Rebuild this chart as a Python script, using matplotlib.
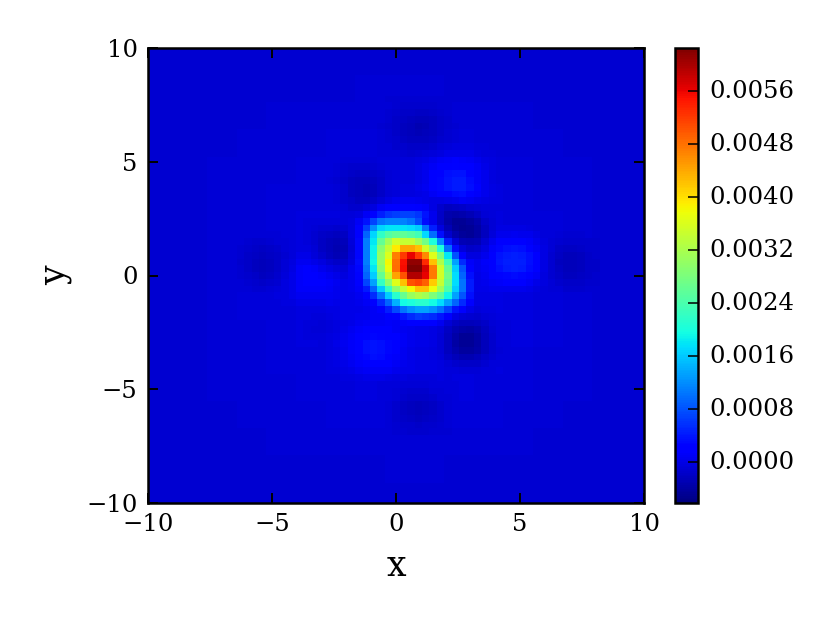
import numpy as np
import matplotlib
matplotlib.use("Agg")
import matplotlib.pyplot as plt
from matplotlib.transforms import ScaledTranslation

# all values in units of 1e-5
N_CELLS = 67
BACKGROUND = [
 [-13,-13,-13,-13,-13,-13,-13,-13,-13,-13,-13,-13,-13,-13,-13,-13,-13],
 [-13,-13,-13,-12,-12,-12,-12,-11,-11,-11,-12,-12,-12,-12,-13,-13,-13],
 [-13,-13,-12,-12,-11,-11,-10,-10, -9,-10,-10,-11,-11,-12,-12,-13,-13],
 [-13,-12,-12,-11,-10, -9, -8, -8, -8, -8, -8, -9,-10,-11,-12,-12,-13],
 [-13,-12,-11,-10, -9, -8, -7, -6, -6, -5, -6, -7, -8,-10,-11,-12,-13],
 [-13,-12,-11,-10, -8, -7, -5, -4, -4, -2, -3, -5, -7, -9,-11,-12,-13],
 [-13,-12,-11, -9, -7, -5, -3, -2, -2,  1,  0, -3, -6, -8,-10,-12,-13],
 [-13,-12,-10, -9, -6, -4, -1,  1,  2,  3,  2, -1, -5, -8,-10,-12,-13],
 [-13,-12,-10, -8, -6, -3,  0,  2,  3,  3,  2, -1, -4, -7,-10,-12,-13],
 [-13,-12,-10, -8, -6, -3,  0,  2,  3,  3,  2, -1, -4, -7,-10,-12,-13],
 [-13,-12,-11, -9, -7, -4, -2,  0,  2,  2,  0, -2, -5, -8,-10,-12,-13],
 [-13,-12,-11,-10, -8, -6, -4, -2, -1, -1, -2, -4, -6, -9,-11,-12,-13],
 [-13,-12,-11,-10, -9, -8, -6, -5, -4, -4, -5, -6, -8,-10,-11,-12,-13],
 [-13,-13,-12,-11,-10, -9, -8, -7, -7, -7, -7, -8, -9,-11,-12,-12,-13],
 [-13,-13,-12,-12,-11,-11,-10,-10, -9, -9,-10,-10,-11,-12,-12,-13,-13],
 [-13,-13,-13,-13,-12,-12,-12,-12,-11,-11,-12,-12,-12,-13,-13,-13,-13],
 [-13,-13,-13,-13,-13,-13,-13,-13,-13,-13,-13,-13,-13,-13,-13,-13,-13],
]
PEAK_ORIGIN = (22, 27)  # row from top, column
PEAK = [
 [ 0, 0, 1, 3, 5, 8,10,10,10, 8, 6, 3, 1, 0, 0, 0, 0],
 [ 0, 1, 5,10,18,24,28,30,30,26,18,10, 3, 0, 0, 0, 0],
 [ 0, 4,15,30,50,62,68,70,70,60,40,14, 2, 0, 0, 0, 0],
 [ 3,12,38,72,105,112,112,112,102,72,32,12, 2, 0, 0, 0, 0],
 [ 6,22,68,125,170,180,180,180,175,160,100,50,12, 2, 0, 0, 0],
 [10,30,95,170,220,250,260,260,250,230,170,100,40, 6, 0, 0, 0],
 [10,35,110,180,260,310,350,340,340,310,270,200,120,50,10, 0, 0],
 [10,35,110,190,290,340,390,440,440,420,350,290,200,100,40, 8, 0],
 [10,35,110,190,300,360,470,520,560,520,460,360,280,180,80,20, 3],
 [10,35,110,190,300,380,480,550,610,610,530,420,320,230,130,50,10],
 [10,30,100,180,290,370,480,550,620,625,570,470,350,260,160,80,20],
 [ 8,25,90,160,260,340,440,500,590,590,560,470,350,270,170,90,30],
 [ 5,20,70,130,220,290,360,420,500,510,490,410,340,260,170,100,40],
 [ 3,10,40,90,160,220,290,340,380,420,420,370,310,240,160,100,40],
 [ 0, 5,20,50,100,160,210,260,300,320,310,280,250,190,130,80,30],
 [ 0, 2, 6,15,50,90,140,190,200,210,210,190,170,130,90,50,15],
 [ 0, 0, 2, 6,15,40,70,100,120,130,130,120,100,70,40,20, 5],
 [ 0, 0, 0, 2, 4, 8,20,35,50,60,55,50,40,25,10, 3, 0],
 [ 0, 0, 0, 0, 0, 2, 4, 8,14,18,18,15,12, 6, 2, 0, 0],
]
LOBE_A_ORIGIN = (20, 36)
LOBE_A = [
 [ -1, -2, -3, -4, -4, -3, -2, -1,  0,  0,  0,  0],
 [ -2, -5, -8,-11,-12,-10, -7, -4, -2, -1,  0,  0],
 [ -3, -8,-14,-20,-22,-20,-15,-10, -5, -2, -1,  0],
 [ -2, -8,-16,-26,-32,-32,-28,-20,-12, -5, -2, -1],
 [ -1, -6,-14,-26,-38,-42,-40,-32,-20,-10, -4, -1],
 [  0, -3,-10,-22,-36,-46,-48,-42,-30,-16, -6, -2],
 [  0, -1, -6,-16,-30,-44,-50,-48,-36,-20, -8, -2],
 [  0,  0, -3, -9,-20,-34,-44,-46,-36,-22, -9, -3],
 [  0,  0, -1, -4,-12,-22,-30,-34,-30,-18, -8, -2],
 [  0,  0,  0, -2, -5,-11,-16,-20,-18,-11, -5, -1],
 [  0,  0,  0,  0, -2, -4, -7, -9, -8, -5, -2, -1],
]
LOBE_B_ORIGIN = (38, 38)
LOBE_B = [
 [ -1, -2, -4, -5, -6, -6, -5, -4, -2, -1,  0],
 [ -2, -5, -9,-13,-15,-15,-13, -9, -5, -2, -1],
 [ -3, -8,-15,-22,-26,-26,-22,-15, -8, -4, -1],
 [ -4,-10,-20,-30,-37,-38,-31,-20,-11, -5, -2],
 [ -4,-12,-23,-36,-46,-48,-38,-24,-13, -6, -2],
 [ -4,-12,-24,-38,-48,-48,-38,-24,-13, -6, -2],
 [ -3,-10,-21,-32,-40,-40,-32,-21,-11, -5, -2],
 [ -2, -7,-15,-23,-28,-28,-23,-15, -8, -3, -1],
 [ -1, -4, -8,-13,-16,-16,-13, -8, -4, -2,  0],
 [  0, -2, -4, -6, -7, -7, -6, -4, -2, -1,  0],
]
LOBE_C_ORIGIN = (25, 21)
LOBE_C = [
 [ -1, -2, -3, -4, -4, -4, -3, -1,  0,  0],
 [ -2, -4, -7,-10,-11,-10, -7, -4, -1,  0],
 [ -3, -7,-12,-17,-19,-17,-12, -6, -2,  0],
 [ -3, -9,-16,-24,-28,-24,-16, -8, -3, -1],
 [ -3, -9,-18,-27,-32,-28,-18, -9, -3, -1],
 [ -3, -9,-16,-25,-29,-26,-16, -8, -3, -1],
 [ -2, -7,-12,-18,-21,-18,-12, -6, -2,  0],
 [ -1, -4, -7,-11,-12,-11, -7, -3, -1,  0],
 [  0, -2, -3, -5, -5, -5, -3, -1,  0,  0],
]
LOBE_D_ORIGIN = (16, 24)
LOBE_D = [
 [  0, -1, -2, -3, -3, -3, -3, -2, -1,  0,  0],
 [ -1, -2, -5, -7, -8, -8, -7, -5, -2, -1,  0],
 [ -1, -4, -8,-12,-14,-14,-12, -8, -4, -1,  0],
 [ -2, -5,-10,-15,-20,-21,-18,-11, -5, -2, -1],
 [ -2, -6,-11,-17,-23,-25,-21,-13, -6, -2, -1],
 [ -2, -6,-11,-17,-23,-25,-21,-13, -6, -2, -1],
 [ -1, -4, -9,-14,-18,-19,-16,-10, -5, -2,  0],
 [ -1, -3, -6, -9,-11,-11,-10, -6, -3, -1,  0],
 [  0, -1, -3, -4, -5, -5, -4, -3, -1,  0,  0],
]
LOBE_E_ORIGIN = (7, 31)
LOBE_E = [
 [  0, -1, -1, -2, -2, -2, -2, -2, -1, -1,  0],
 [ -1, -2, -3, -5, -6, -6, -6, -5, -3, -2, -1],
 [ -1, -3, -6, -8,-10,-11,-10, -8, -6, -3, -1],
 [ -1, -4, -8,-12,-15,-16,-15,-12, -8, -4, -1],
 [ -2, -5, -9,-14,-18,-20,-18,-14, -9, -5, -2],
 [ -2, -5, -9,-14,-18,-20,-18,-14, -9, -5, -2],
 [ -1, -4, -8,-12,-15,-16,-15,-12, -8, -4, -1],
 [ -1, -3, -6, -8,-10,-11,-10, -8, -6, -3, -1],
 [ -1, -2, -3, -5, -6, -6, -6, -5, -3, -2, -1],
 [  0, -1, -1, -2, -2, -2, -2, -2, -1, -1,  0],
]
LOBE_F_ORIGIN = (48, 31)
LOBE_F = [
 [  0, -1, -1, -2, -2, -2, -2, -2, -1, -1,  0],
 [ -1, -2, -3, -5, -6, -6, -6, -4, -3, -2, -1],
 [ -1, -3, -5, -8,-10,-10,-10, -7, -5, -3, -1],
 [ -1, -4, -7,-11,-14,-15,-14,-11, -7, -4, -1],
 [ -1, -4, -8,-13,-17,-18,-17,-13, -8, -4, -1],
 [ -1, -4, -8,-13,-17,-18,-17,-13, -8, -4, -1],
 [ -1, -4, -7,-11,-14,-15,-14,-11, -7, -4, -1],
 [ -1, -3, -5, -7, -9,-10, -9, -7, -5, -3, -1],
 [ -1, -2, -3, -4, -5, -5, -5, -4, -3, -2, -1],
 [  0, -1, -1, -2, -2, -2, -2, -2, -1, -1,  0],
]
LOBE_G_ORIGIN = (27, 11)
LOBE_G = [
 [  0, -1, -1, -2, -2, -2, -2, -1, -1,  0],
 [ -1, -2, -4, -5, -6, -6, -5, -4, -2, -1],
 [ -1, -3, -6, -9,-11,-11, -9, -6, -3, -1],
 [ -1, -4, -8,-12,-15,-15,-12, -8, -4, -1],
 [ -1, -5, -9,-14,-17,-17,-14, -9, -5, -1],
 [ -1, -5, -9,-14,-17,-17,-14, -9, -5, -1],
 [ -1, -4, -8,-11,-14,-14,-11, -8, -4, -1],
 [ -1, -3, -5, -8, -9, -9, -8, -5, -3, -1],
 [  0, -1, -3, -4, -5, -5, -4, -3, -1,  0],
]
LOBE_H_ORIGIN = (27, 52)
LOBE_H = [
 [  0, -1, -1, -2, -2, -2, -2, -1, -1,  0],
 [ -1, -2, -4, -5, -6, -6, -5, -4, -2, -1],
 [ -1, -3, -6, -9,-11,-11, -9, -6, -3, -1],
 [ -1, -4, -8,-12,-15,-15,-12, -8, -4, -1],
 [ -1, -5, -9,-14,-17,-17,-14, -9, -5, -1],
 [ -1, -5, -9,-14,-17,-17,-14, -9, -5, -1],
 [ -1, -4, -8,-11,-14,-14,-11, -8, -4, -1],
 [ -1, -3, -5, -8, -9, -9, -8, -5, -3, -1],
 [  0, -1, -3, -4, -5, -5, -4, -3, -1,  0],
]
BUMP_A_ORIGIN = (14, 36)
BUMP_A = [
 [  0,  1,  2,  3,  4,  4,  4,  3,  2,  1,  0],
 [  1,  3,  5,  8, 10, 10, 10,  8,  5,  3,  1],
 [  2,  5, 10, 15, 19, 20, 19, 15, 10,  5,  2],
 [  3,  8, 15, 23, 29, 31, 29, 23, 15,  8,  3],
 [  4, 10, 19, 30, 39, 42, 41, 32, 19, 10,  4],
 [  4, 10, 20, 33, 43, 46, 46, 37, 20, 10,  4],
 [  4, 10, 20, 33, 43, 47, 46, 38, 20, 10,  4],
 [  3,  9, 18, 28, 38, 43, 42, 32, 18,  9,  3],
 [  2,  6, 12, 19, 25, 28, 26, 20, 12,  6,  2],
 [  1,  4,  7, 10, 13, 14, 13, 10,  7,  4,  1],
 [  0,  2,  3,  4,  5,  6,  5,  4,  3,  2,  0],
]
BUMP_B_ORIGIN = (26, 44)
BUMP_B = [
 [  0,  1,  2,  3,  4,  4,  4,  3,  2,  1,  0],
 [  1,  3,  6,  9, 11, 12, 11,  9,  6,  3,  1],
 [  2,  6, 12, 18, 23, 25, 23, 18, 12,  6,  2],
 [  3,  9, 18, 29, 37, 40, 37, 29, 18,  9,  3],
 [  4, 11, 23, 37, 46, 49, 46, 37, 23, 11,  4],
 [  4, 12, 24, 39, 48, 50, 48, 39, 24, 12,  4],
 [  4, 11, 22, 35, 44, 47, 44, 35, 22, 11,  4],
 [  3,  8, 16, 25, 32, 35, 32, 25, 16,  8,  3],
 [  2,  5,  9, 14, 18, 19, 18, 14,  9,  5,  2],
 [  1,  2,  4,  6,  8,  8,  8,  6,  4,  2,  1],
]
BUMP_C_ORIGIN = (39, 25)
BUMP_C = [
 [  0,  1,  2,  3,  3,  4,  3,  3,  2,  1,  0],
 [  1,  2,  4,  7,  8,  9,  8,  7,  4,  2,  1],
 [  1,  4,  8, 12, 16, 17, 16, 12,  8,  4,  1],
 [  2,  6, 12, 19, 25, 28, 26, 19, 12,  6,  2],
 [  3,  8, 15, 26, 33, 35, 34, 26, 15,  8,  3],
 [  3,  8, 16, 28, 35, 37, 36, 28, 16,  8,  3],
 [  3,  7, 14, 24, 31, 34, 32, 24, 14,  7,  3],
 [  2,  5, 10, 15, 20, 22, 21, 16, 10,  5,  2],
 [  1,  3,  6,  9, 11, 12, 11,  9,  6,  3,  1],
 [  0,  1,  2,  4,  5,  5,  5,  4,  2,  1,  0],
]
BUMP_D_ORIGIN = (29, 17)
BUMP_D = [
 [  0,  1,  1,  2,  2,  2,  2,  1,  1,  0],
 [  1,  2,  4,  6,  7,  7,  6,  4,  2,  1],
 [  1,  4,  7, 11, 13, 13, 11,  7,  4,  1],
 [  2,  5, 10, 15, 18, 18, 15, 10,  5,  2],
 [  2,  6, 11, 17, 20, 20, 17, 11,  6,  2],
 [  2,  6, 11, 17, 20, 20, 17, 11,  6,  2],
 [  2,  5,  9, 14, 16, 16, 14,  9,  5,  2],
 [  1,  3,  6,  9, 10, 10,  9,  6,  3,  1],
 [  0,  1,  3,  4,  5,  5,  4,  3,  1,  0],
]
FAINT_ORIGIN = (38, 20)
FAINT = [
 [ 0,-1,-1,-1,-1,-1, 0],
 [-1,-2,-3,-3,-3,-2,-1],
 [-1,-3,-4,-5,-4,-3,-1],
 [-1,-3,-5,-6,-5,-3,-1],
 [-1,-2,-3,-4,-3,-2,-1],
 [ 0,-1,-1,-2,-1,-1, 0],
]
TICKS_AXIS = [-10, -5, 0, 5, 10]
TICKS_CBAR = [0.0, 0.0008, 0.0016, 0.0024, 0.0032, 0.0040, 0.0048, 0.0056]
VMIN, VMAX = -0.00062, 0.00625
X_LABEL, Y_LABEL = "x", "y"

W, H = 830, 623
grid = np.repeat(np.repeat(np.array(BACKGROUND, float), 4, axis=0), 4, axis=1)[:N_CELLS, :N_CELLS]
for origin, patch in [(PEAK_ORIGIN, PEAK), (LOBE_A_ORIGIN, LOBE_A), (LOBE_B_ORIGIN, LOBE_B),
                      (LOBE_C_ORIGIN, LOBE_C), (LOBE_D_ORIGIN, LOBE_D), (LOBE_E_ORIGIN, LOBE_E),
                      (LOBE_F_ORIGIN, LOBE_F), (LOBE_G_ORIGIN, LOBE_G), (LOBE_H_ORIGIN, LOBE_H),
                      (BUMP_A_ORIGIN, BUMP_A), (BUMP_B_ORIGIN, BUMP_B), (BUMP_C_ORIGIN, BUMP_C),
                      (BUMP_D_ORIGIN, BUMP_D), (FAINT_ORIGIN, FAINT)]:
    p = np.array(patch, float)
    r, c = origin
    grid[r:r + p.shape[0], c:c + p.shape[1]] += p
grid *= 1e-5

plt.rcParams["font.family"] = "DejaVu Serif"
fig = plt.figure(figsize=(W / 100, H / 100), dpi=100)
ax = fig.add_axes([148 / W, 1 - 503 / H, 496 / W, 455 / H])
edges = np.linspace(-10, 10, N_CELLS + 1)
mesh = ax.pcolormesh(edges, edges, grid[::-1], cmap="jet", vmin=VMIN, vmax=VMAX,
                     rasterized=True, linewidth=0)
ax.set_xlim(-10, 10)
ax.set_ylim(-10, 10)
ax.set_xticks(TICKS_AXIS)
ax.set_yticks(TICKS_AXIS)
ax.tick_params(direction="in", top=True, right=True, length=7.2, width=1.4, labelsize=17.5, pad=7.5)
for s in ax.spines.values():
    s.set_linewidth(1.8)
ax.set_xlabel(X_LABEL, fontsize=25, labelpad=9)
ax.set_ylabel(Y_LABEL, fontsize=25, labelpad=10)

cax = fig.add_axes([675 / W, 1 - 503 / H, 23 / W, 455 / H])
cb = fig.colorbar(mesh, cax=cax, ticks=TICKS_CBAR, format="%.4f")
cb.outline.set_linewidth(1.8)
cb.ax.tick_params(direction="in", length=7.5, width=1.1, labelsize=17.5, pad=8)
shift = ScaledTranslation(0, 1.5 / 72, fig.dpi_scale_trans)
for t in cb.ax.get_yticklabels():
    t.set_va("center_baseline")
    t.set_transform(t.get_transform() + shift)
fig.savefig("out.png", dpi=100)
